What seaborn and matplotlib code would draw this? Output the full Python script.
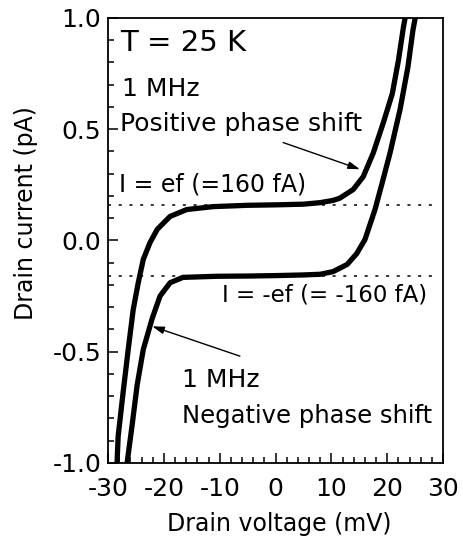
import seaborn as sns
import matplotlib.pyplot as plt
import matplotlib.ticker as mticker
import pandas as pd

# data: drain voltage (mV) vs drain current (pA)
v_pos = [-28.4, -28.2, -27.3, -26.4, -25.5, -24.6, -23.7, -22.5, -21.2, -18.9, -15.9, -11.2,
         -5.0, 0.0, 5.0, 8.0, 10.3, 11.5, 13.9, 15.7, 17.5, 19.3, 20.9, 22.0, 22.9, 23.2]
i_pos = [-1.0, -0.88, -0.68, -0.49, -0.31, -0.19, -0.085, -0.01, 0.05, 0.108, 0.139, 0.152,
         0.158, 0.16, 0.163, 0.170, 0.18, 0.19, 0.229, 0.287, 0.394, 0.53, 0.66, 0.81, 0.96, 1.0]

v_neg = [-26.6, -25.7, -24.8, -23.7, -22.1, -20.7, -18.9, -16.6, -10.5, -5.0, 0.0, 5.0,
         8.0, 10.3, 12.8, 14.5, 16.0, 17.8, 19.1, 20.5, 22.3, 23.7, 24.6, 25.0]
i_neg = [-1.0, -0.83, -0.65, -0.49, -0.35, -0.25, -0.19, -0.166, -0.161, -0.16, -0.158, -0.155,
         -0.152, -0.14, -0.108, -0.06, 0.004, 0.139, 0.26, 0.394, 0.59, 0.78, 0.946, 1.0]

ef = 0.16  # pA

df = pd.concat([
    pd.DataFrame({'V': v_pos, 'I': i_pos, 'shift': 'positive'}),
    pd.DataFrame({'V': v_neg, 'I': i_neg, 'shift': 'negative'}),
])

sns.set_style('ticks')
plt.rcParams['font.family'] = ['DejaVu Sans']
plt.rcParams['axes.unicode_minus'] = False
plt.rcParams['text.color'] = 'black'
plt.rcParams['axes.labelcolor'] = 'black'

fig, ax = plt.subplots(figsize=(4.64, 5.44), dpi=100)
fig.subplots_adjust(left=0.233, right=0.955, bottom=0.149, top=0.967)

sns.lineplot(data=df, x='V', y='I', units='shift', estimator=None, sort=False,
             color='black', lw=3.8, ax=ax, legend=False)

ax.hlines([ef, -ef], -30, 28.5, colors='black', lw=1.1, linestyles=[(0, (2, 5))])

ax.set_xlim(-30, 30)
ax.set_ylim(-1.0, 1.0)
ax.xaxis.set_major_locator(mticker.MultipleLocator(10))
ax.xaxis.set_minor_locator(mticker.MultipleLocator(2))
ax.yaxis.set_major_locator(mticker.MultipleLocator(0.5))
ax.yaxis.set_minor_locator(mticker.MultipleLocator(0.1))
ax.yaxis.set_major_formatter(mticker.FormatStrFormatter('%.1f'))
ax.tick_params(which='both', direction='in', width=1.1, colors='black', labelsize=18)
ax.tick_params(which='major', length=7)
ax.tick_params(which='minor', length=4)
ax.tick_params(axis='y', pad=5)
ax.tick_params(axis='x', pad=10)
for s in ax.spines.values():
    s.set_linewidth(1.3)
    s.set_color('black')

ax.set_xlabel('Drain voltage (mV)', fontsize=17)
ax.set_ylabel('Drain current (pA)', fontsize=17)
ax.xaxis.set_label_coords(0.51, -0.11)
ax.yaxis.set_label_coords(-0.21, 0.562)

ax.text(-27.9, 0.888, 'T = 25 K', fontsize=21, va='center')
ax.text(-27.6, 0.68, '1 MHz', fontsize=18, va='center')
ax.text(-27.9, 0.525, 'Positive phase shift', fontsize=18, va='center')
ax.text(-28.0, 0.25, 'I = ef (=160 fA)', fontsize=17, va='center')
ax.text(27.1, -0.247, 'I = -ef (= -160 fA)', fontsize=16.5, va='center', ha='right')
ax.text(-16.75, -0.628, '1 MHz', fontsize=18, va='center')
ax.text(-16.75, -0.79, 'Negative phase shift', fontsize=17.5, va='center')

arrow = dict(arrowstyle='-|>,head_length=0.7,head_width=0.22', lw=1.0, color='black',
             shrinkA=0, shrinkB=0)
ax.annotate('', xy=(15.1, 0.32), xytext=(1.35, 0.44), arrowprops=arrow)
ax.annotate('', xy=(-22.1, -0.386), xytext=(-6.4, -0.52), arrowprops=arrow)

plt.savefig('out.png', dpi=100)
